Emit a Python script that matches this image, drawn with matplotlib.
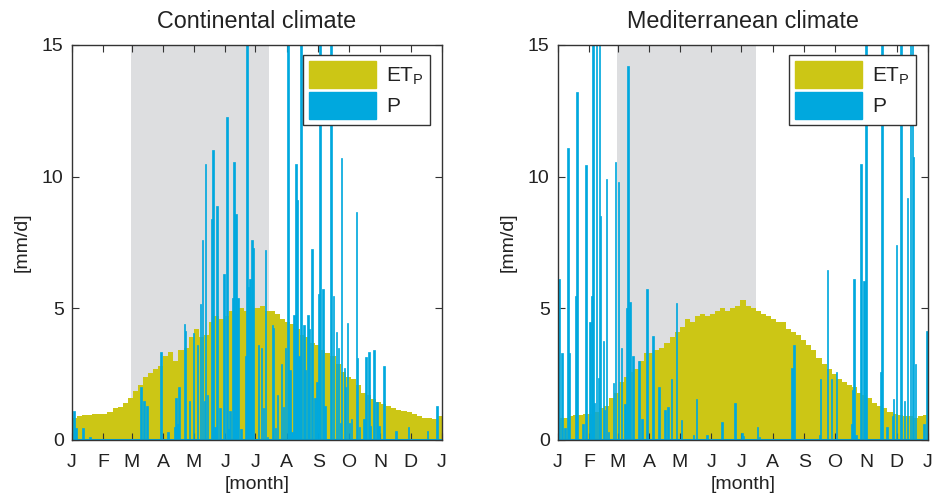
"""Daily potential evapotranspiration vs precipitation, two climate types."""

import matplotlib
matplotlib.use("Agg")
import matplotlib.pyplot as plt
import numpy as np
from matplotlib.patches import Patch

# ---------------------------------------------------------------------------
# Data
# ---------------------------------------------------------------------------

# ET_P sampled every 5 days (day of year 0, 5, ..., 360), mm/d
et_days = list(range(0, 365, 5))

et_continental = [
    0.85, 0.9, 0.95, 0.95, 1.0, 1.0, 1.0, 1.05, 1.2, 1.25,
    1.4, 1.6, 1.85, 2.1, 2.4, 2.55, 2.7, 2.8, 3.2, 3.35,
    3.0, 3.4, 3.5, 3.9, 4.2, 3.9, 4.0, 4.5, 4.7, 4.6,
    4.7, 4.9, 4.8, 5.0, 4.9, 5.1, 5.0, 5.1, 4.9, 4.9,
    4.8, 4.6, 4.5, 4.4, 4.2, 4.0, 3.9, 3.7, 3.6, 3.4,
    3.3, 3.2, 2.9, 2.6, 2.4, 2.3, 2.1, 1.8, 1.7, 1.55,
    1.45, 1.35, 1.3, 1.2, 1.15, 1.1, 1.05, 1.0, 0.9, 0.85,
    0.85, 0.8, 0.9,
]

et_mediterranean = [
    0.85, 0.85, 0.9, 0.95, 0.95, 1.0, 1.0, 1.05, 1.2, 1.3,
    1.6, 1.8, 2.2, 2.4, 2.6, 2.7, 3.0, 3.3, 3.3, 3.4,
    3.5, 3.7, 3.9, 4.1, 4.3, 4.6, 4.5, 4.7, 4.8, 4.7,
    4.8, 4.9, 5.0, 4.9, 5.0, 5.1, 5.3, 5.1, 5.0, 4.9,
    4.8, 4.7, 4.6, 4.5, 4.5, 4.2, 4.1, 4.0, 3.8, 3.6,
    3.4, 3.1, 2.9, 2.7, 2.5, 2.3, 2.2, 2.1, 2.0, 1.8,
    1.7, 1.6, 1.4, 1.3, 1.2, 1.05, 1.0, 0.95, 0.9, 0.9,
    0.85, 0.9, 0.95,
]

# precipitation events: day of year and amount (mm/d); 16 = off the top
p_days_continental = [
    1, 3, 10, 17, 67, 70, 73, 87, 94, 101, 102, 104, 105, 110, 111, 115,
    119, 123, 126, 128, 130, 131, 133, 137, 138, 140, 142, 145, 149, 152,
    154, 155, 158, 159, 161, 163, 166, 171, 172, 173, 175, 176, 177, 178,
    183, 186, 188, 190, 192, 197, 198, 200, 202, 206, 208, 210, 212, 214,
    216, 218, 220, 221, 223, 225, 228, 229, 232, 233, 236, 239, 241, 243,
    244, 247, 249, 255, 257, 260, 262, 264, 265, 268, 269, 271, 273, 275,
    280, 281, 283, 287, 289, 292, 293, 297, 300, 302, 307, 319, 331, 350,
    359,
]
p_continental = [
    1.1, 0.45, 0.45, 0.1, 2.0, 1.5, 1.3, 3.35, 0.3, 0.5, 1.6, 0.6, 2.0, 4.4,
    4.15, 1.5, 4.05, 3.6, 5.15, 7.6, 1.5, 10.5, 1.7, 8.4, 11.0, 0.5, 8.9, 1.2,
    6.3, 12.25, 0.4, 1.1, 5.4, 10.55, 8.6, 5.4, 0.4, 3.2, 16, 5.8, 6.1, 2.6,
    7.6, 7.3, 3.6, 3.5, 1.2, 7.2, 0.1, 4.35, 4.25, 0.45, 1.7, 2.9, 1.25, 3.5,
    16, 2.65, 0.3, 4.75, 10.5, 9.1, 3.2, 16, 4.35, 2.65, 4.75, 4.2, 7.25, 1.6,
    2.2, 5.55, 16, 5.75, 1.3, 16, 5.45, 4.1, 3.5, 0.65, 10.7, 2.75, 2.0, 4.45,
    0.65, 0.8, 8.65, 3.1, 0.5, 0.8, 3.15, 3.35, 0.55, 3.4, 1.45, 0.55, 2.8,
    0.35, 0.5, 0.35, 1.3,
]

p_days_mediterranean = [
    0, 3, 6, 9, 10, 17, 18, 24, 27, 31, 33, 34, 35, 37, 39, 40, 41, 44, 45,
    47, 49, 54, 56, 59, 62, 65, 67, 68, 70, 73, 79, 82, 87, 93, 99, 105, 108,
    111, 116, 121, 133, 136, 146, 161, 174, 181, 182, 196, 198, 230, 232,
    257, 258, 265, 269, 274, 289, 290, 291, 293, 298, 301, 303, 318, 319,
    324, 329, 330, 333, 337, 338, 341, 344, 347, 349, 350, 352, 360, 363,
]
p_mediterranean = [
    6.1, 3.3, 0.45, 11.1, 3.3, 5.45, 13.2, 0.6, 10.45, 4.5, 5.45, 16, 1.4, 16,
    2.35, 16, 8.5, 3.75, 1.15, 9.9, 0.3, 2.15, 10.55, 9.8, 3.5, 1.35, 5.0,
    14.2, 5.25, 3.2, 3.0, 0.8, 5.75, 3.95, 2.0, 1.15, 1.25, 2.3, 5.2, 0.75,
    0.2, 1.55, 0.2, 0.7, 1.4, 0.25, 0.15, 0.5, 0.1, 2.75, 3.6, 0.2, 2.3, 6.45,
    2.3, 2.6, 0.6, 1.9, 6.1, 0.2, 10.5, 6.05, 16, 2.6, 16, 0.5, 0.9, 1.55,
    7.4, 16, 16, 1.5, 9.2, 16, 16, 10.75, 2.9, 0.6, 4.15,
]

# growing season shading (day of year)
season_continental = (58, 194)
season_mediterranean = (58, 195)

month_starts = [0, 31, 59, 90, 120, 151, 181, 212, 243, 273, 304, 334, 365]
month_labels = ["J", "F", "M", "A", "M", "J", "J", "A", "S", "O", "N", "D", "J"]

ET_COLOR = "#CCC615"
P_COLOR = "#00A8DE"
SEASON_COLOR = "#DDDEE0"


# ---------------------------------------------------------------------------
# Plot
# ---------------------------------------------------------------------------

def draw_panel(ax, title, et, p_days, p_vals, season):
    ax.axvspan(*season, color=SEASON_COLOR, lw=0, zorder=0)

    # step fill, last sample held until the end of the year
    x = np.append(et_days, 365)
    y = np.append(et, et[-1])
    ax.fill_between(x, y, step="post", color=ET_COLOR, lw=0, zorder=1)

    ax.bar(p_days, p_vals, width=1.6, align="edge", color=P_COLOR,
           edgecolor=P_COLOR, linewidth=0.5, zorder=2)
    ax.axhline(0, color=P_COLOR, lw=2.2, zorder=3)

    ax.set_xlim(0, 365)
    ax.set_ylim(0, 15)
    ax.set_yticks([0, 5, 10, 15])
    ax.set_xticks(month_starts)
    ax.set_xticklabels(month_labels)
    ax.tick_params(axis="both", direction="in", top=True, right=True,
                   length=5, width=0.8, color="#333333")
    ax.tick_params(axis="x", pad=10)
    ax.tick_params(axis="y", pad=6)
    for s in ax.spines.values():
        s.set_color("#333333")
        s.set_linewidth(1.0)
        s.set_zorder(5)

    ax.set_title(title, pad=12)
    ax.set_xlabel("[month]", labelpad=4)
    ax.set_ylabel("[mm/d]", labelpad=8)

    handles = [Patch(color=ET_COLOR), Patch(color=P_COLOR)]
    leg = ax.legend(handles, [r"ET$_\mathrm{P}$", "P"], loc="upper right",
                    bbox_to_anchor=(0.968, 0.975), fancybox=False,
                    framealpha=1, edgecolor="#333333", fontsize=15,
                    handlelength=3.2, handleheight=1.6, handletextpad=0.5,
                    labelspacing=0.2, borderpad=0.3, borderaxespad=0.0)
    leg.get_frame().set_linewidth(1.0)


def plot(out_path):
    plt.rcParams.update({
        "font.family": ["Liberation Sans", "DejaVu Sans"],
        "mathtext.fontset": "custom",
        "mathtext.rm": "Liberation Sans",
        "mathtext.it": "Liberation Sans",
        "font.size": 14,
        "text.color": "#222222",
        "axes.labelcolor": "#222222",
        "xtick.color": "#222222",
        "ytick.color": "#222222",
    })

    fig = plt.figure(figsize=(9.32, 4.95), dpi=100)
    ax1 = fig.add_axes([72 / 932, 55 / 495, 370 / 932, 395 / 495])
    ax2 = fig.add_axes([558 / 932, 55 / 495, 370 / 932, 395 / 495])

    draw_panel(ax1, "Continental climate", et_continental,
               p_days_continental, p_continental, season_continental)
    draw_panel(ax2, "Mediterranean climate", et_mediterranean,
               p_days_mediterranean, p_mediterranean, season_mediterranean)

    fig.savefig(out_path, dpi=100)


if __name__ == "__main__":
    plot("out.png")
